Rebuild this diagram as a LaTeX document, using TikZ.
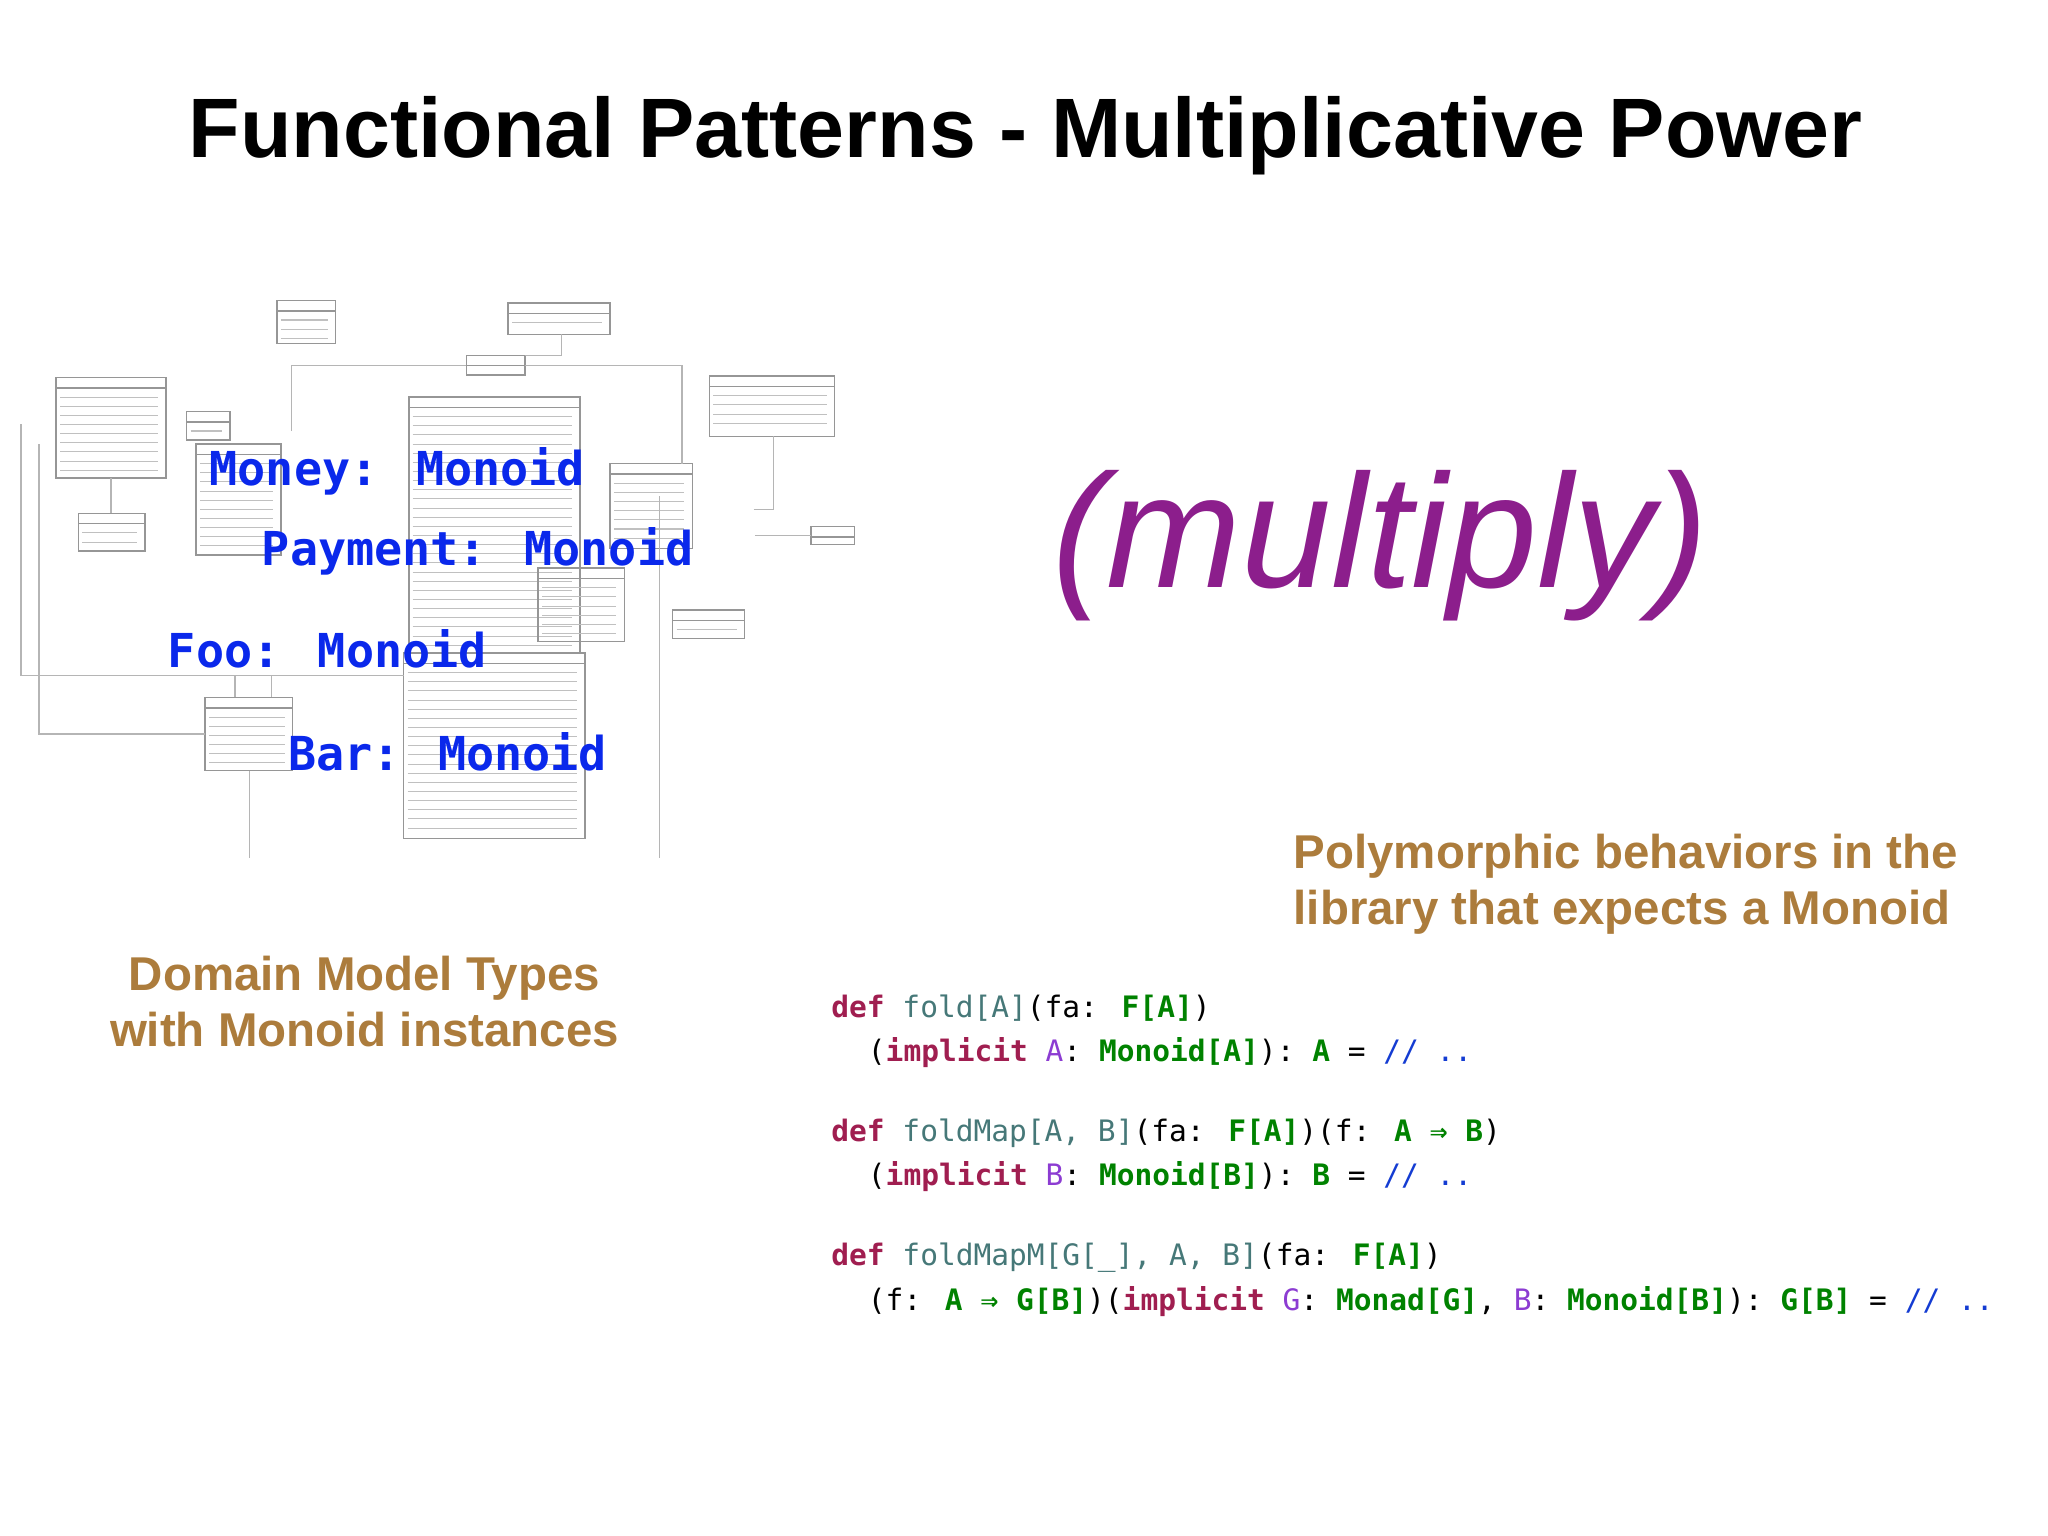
\documentclass[tikz,border=0pt]{standalone}
\usepackage{fontspec}
\setmainfont{Liberation Sans}
\newfontfamily\codefont{DejaVu Sans Mono}
\newfontfamily\titlefont{Liberation Sans}
\definecolor{mblue}{RGB}{10,40,235}
\definecolor{brownc}{RGB}{172,124,60}
\definecolor{purp}{RGB}{140,30,140}
\definecolor{kw}{RGB}{160,30,80}
\definecolor{fn}{RGB}{70,120,120}
\definecolor{gr}{RGB}{0,130,0}
\definecolor{vi}{RGB}{140,60,210}
\definecolor{cb}{RGB}{20,60,210}
\definecolor{uml}{RGB}{150,150,150}
\begin{document}
\begin{tikzpicture}[x=0.013061cm,y=-0.013061cm,
  mono/.style={font=\codefont\bfseries\fontsize{13.3}{16}\selectfont,text=mblue,anchor=base west,inner sep=0},
  captext/.style={font=\bfseries\fontsize{13.5}{16}\selectfont,text=brownc,inner sep=0},
  code/.style={font=\codefont\fontsize{8.4}{10}\selectfont,anchor=base west,inner sep=0},
  box/.style={draw=uml,line width=0.4pt},
  wire/.style={draw=uml!70,line width=0.4pt}]
\useasboundingbox (0,0) rectangle (1568,1176);
% faint UML diagram
\foreach \a/\b/\c/\d in {212/230/257/263, 389/232/467/256, 43/289/127/366, 143/315/176/337, 313/304/444/500, 60/393/111/422, 543/288/639/334, 412/435/478/491, 515/467/570/489, 621/403/654/417, 157/534/224/590, 309/500/448/642, 357/272/402/287, 467/355/530/420, 150/340/215/425}{
  \draw[box] (\a,\b) rectangle (\c,\d);
  \draw[box] (\a,\b+8) -- (\c,\b+8);
  \pgfmathtruncatemacro{\n}{(\d-\b-12)/7}
  \ifnum\n>0
  \foreach \k in {1,...,\n}{\draw[uml!60,line width=0.3pt] (\a+3,\b+8+\k*7) -- (\c-6,\b+8+\k*7);}
  \fi}
\draw[wire] (16,325) -- (16,517) -- (309,517);
\draw[wire] (30,340) -- (30,562) -- (157,562);
\draw[wire] (223,330) -- (223,280) -- (357,280);
\draw[wire] (402,280) -- (522,280) -- (522,355);
\draw[wire] (191,590) -- (191,657);
\draw[wire] (505,380) -- (505,657);
\draw[wire] (577,390) -- (592,390) -- (592,334);
\draw[wire] (578,410) -- (621,410);
\draw[wire] (85,366) -- (85,393);
\draw[wire] (180,517) -- (180,534);
\draw[wire] (208,517) -- (208,534);
\draw[wire] (430,256) -- (430,272) -- (402,272);
% title
\node[font=\titlefont\bfseries\fontsize{24}{28}\selectfont,inner sep=0] (title) at (785,104) {Functional Patterns - Multiplicative Power};
% monoid labels
\node[mono] (money) at (160,372) {Money: Monoid};
\node[mono] (payment) at (200,433) {Payment: Monoid};
\node[mono] (foo) at (128,511) {Foo: Monoid};
\node[mono] (bar) at (220,590) {Bar: Monoid};
% multiply
\node[font=\itshape\fontsize{46}{50}\selectfont,text=purp,inner sep=0] (mult) at (1057,418) {(multiply)};
% captions
\node[captext,align=center] (left) at (279,767) {Domain Model Types\\[0pt]with Monoid instances};
\node[captext,align=left,anchor=north west] (right) at (990,638) {Polymorphic behaviors in the\\[0pt]library that expects a Monoid};
% code
\node[code] (c1) at (636,779) {\textcolor{kw}{\bfseries def} \textcolor{fn}{fold[A]}(fa: \textcolor{gr}{\bfseries F[A]})};
\node[code] (c2) at (664,813) {(\textcolor{kw}{\bfseries implicit} \textcolor{vi}{A}: \textcolor{gr}{\bfseries Monoid[A]}): \textcolor{gr}{\bfseries A} = \textcolor{cb}{// ..}};
\node[code] (c3) at (636,874) {\textcolor{kw}{\bfseries def} \textcolor{fn}{foldMap[A, B]}(fa: \textcolor{gr}{\bfseries F[A]})(f: \textcolor{gr}{\bfseries A ⇒ B})};
\node[code] (c4) at (664,908) {(\textcolor{kw}{\bfseries implicit} \textcolor{vi}{B}: \textcolor{gr}{\bfseries Monoid[B]}): \textcolor{gr}{\bfseries B} = \textcolor{cb}{// ..}};
\node[code] (c5) at (636,969) {\textcolor{kw}{\bfseries def} \textcolor{fn}{foldMapM[G[\_], A, B]}(fa: \textcolor{gr}{\bfseries F[A]})};
\node[code] (c6) at (664,1003) {(f: \textcolor{gr}{\bfseries A ⇒ G[B]})(\textcolor{kw}{\bfseries implicit} \textcolor{vi}{G}: \textcolor{gr}{\bfseries Monad[G]}, \textcolor{vi}{B}: \textcolor{gr}{\bfseries Monoid[B]}): \textcolor{gr}{\bfseries G[B]} = \textcolor{cb}{// ..}};
\end{tikzpicture}
\end{document}
